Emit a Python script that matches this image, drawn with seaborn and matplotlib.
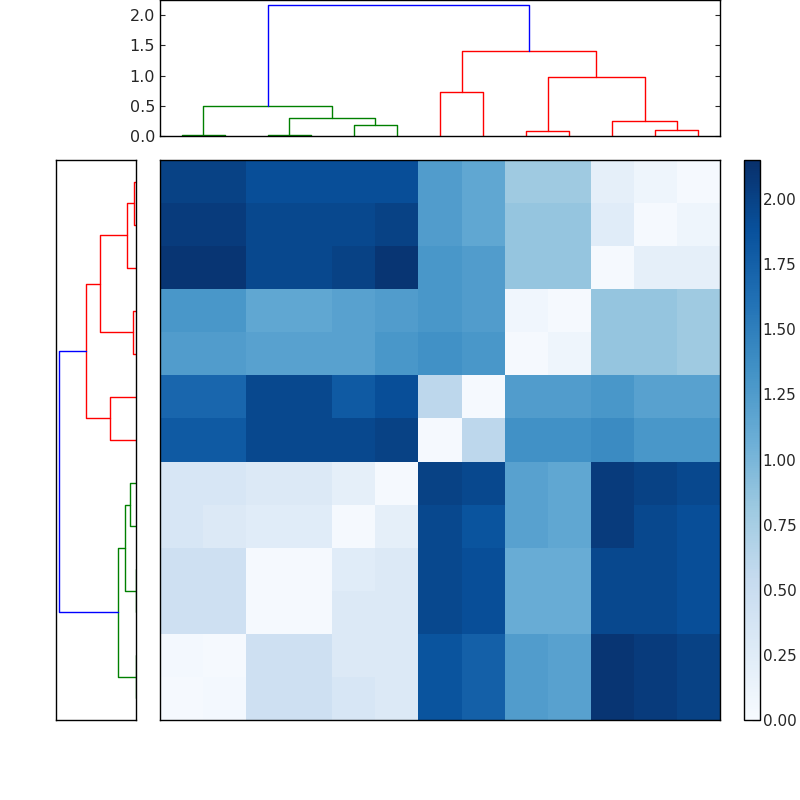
import matplotlib
matplotlib.use("Agg")
import matplotlib.pyplot as plt
import seaborn as sns
import numpy as np
import pandas as pd

# distance matrix, already in dendrogram leaf order (rows top->bottom, cols left->right)
dist = [
    [2.00, 2.00, 1.90, 1.90, 1.90, 1.90, 1.25, 1.15, 0.80, 0.80, 0.20, 0.10, 0.03],
    [2.05, 2.05, 1.95, 1.95, 1.95, 2.00, 1.25, 1.15, 0.85, 0.85, 0.25, 0.03, 0.10],
    [2.10, 2.10, 1.95, 1.95, 2.00, 2.10, 1.30, 1.25, 0.85, 0.85, 0.03, 0.20, 0.20],
    [1.30, 1.30, 1.15, 1.15, 1.20, 1.25, 1.30, 1.25, 0.08, 0.03, 0.85, 0.85, 0.80],
    [1.25, 1.25, 1.20, 1.20, 1.20, 1.30, 1.35, 1.30, 0.03, 0.10, 0.85, 0.85, 0.80],
    [1.70, 1.70, 1.95, 1.95, 1.80, 1.90, 0.60, 0.03, 1.25, 1.25, 1.30, 1.20, 1.20],
    [1.80, 1.80, 1.95, 1.95, 1.95, 2.00, 0.03, 0.60, 1.35, 1.35, 1.40, 1.30, 1.30],
    [0.35, 0.35, 0.30, 0.30, 0.20, 0.03, 2.00, 1.95, 1.20, 1.15, 2.05, 2.00, 1.95],
    [0.35, 0.30, 0.25, 0.25, 0.03, 0.20, 1.95, 1.85, 1.20, 1.15, 2.05, 1.95, 1.90],
    [0.45, 0.45, 0.03, 0.03, 0.25, 0.30, 1.95, 1.90, 1.10, 1.10, 1.95, 1.95, 1.90],
    [0.45, 0.45, 0.03, 0.03, 0.30, 0.30, 1.95, 1.90, 1.10, 1.10, 1.95, 1.95, 1.90],
    [0.05, 0.03, 0.45, 0.45, 0.30, 0.30, 1.85, 1.75, 1.25, 1.20, 2.10, 2.05, 2.00],
    [0.03, 0.05, 0.45, 0.45, 0.35, 0.30, 1.85, 1.75, 1.25, 1.20, 2.10, 2.05, 2.00],
]

# merges: (name, left child, right child, height, colour); ints are leaf positions
col_links = [
    ("a", 0, 1, 0.02, "g"), ("b", 2, 3, 0.01, "g"), ("c", 4, 5, 0.18, "g"),
    ("d", "b", "c", 0.30, "g"), ("e", "a", "d", 0.50, "g"),
    ("f", 6, 7, 0.72, "r"), ("h", 8, 9, 0.08, "r"), ("i", 11, 12, 0.10, "r"),
    ("j", 10, "i", 0.25, "r"), ("k", "h", "j", 0.97, "r"), ("l", "f", "k", 1.40, "r"),
    ("root", "e", "l", 2.17, "b"),
]
row_links = [
    ("a", 0, 1, 0.06, "r"), ("b", 2, "a", 0.26, "r"), ("c", 3, 4, 0.08, "r"),
    ("d", "b", "c", 1.00, "r"), ("e", 5, 6, 0.74, "r"), ("f", "d", "e", 1.40, "r"),
    ("g", 7, 8, 0.18, "g"), ("h", 9, 10, 0.01, "g"), ("i", "g", "h", 0.30, "g"),
    ("j", 11, 12, 0.01, "g"), ("k", "i", "j", 0.50, "g"), ("root", "f", "k", 2.17, "b"),
]


def draw_dendro(ax, links, horizontal=False):
    pos, hgt = {}, {}
    for name, l, r, h, c in links:
        xs, ys = [], []
        for ch in (l, r):
            xs.append(pos[ch] if isinstance(ch, str) else ch + 0.5)
            ys.append(hgt[ch] if isinstance(ch, str) else 0.0)
        px = [xs[0], xs[0], xs[1], xs[1]]
        py = [ys[0], h, h, ys[1]]
        if horizontal:
            ax.plot(py, px, color=c, lw=1)
        else:
            ax.plot(px, py, color=c, lw=1)
        pos[name] = (xs[0] + xs[1]) / 2
        hgt[name] = h


fig = plt.figure(figsize=(8, 8), dpi=100)
sns.set_style("white")

ax_col = fig.add_axes([0.2, 0.83, 0.7, 0.17])
draw_dendro(ax_col, col_links)
ax_col.set_xlim(0, 13)
ax_col.set_ylim(0, 2.25)
ax_col.set_xticks([])
ax_col.set_yticks([0, 0.5, 1.0, 1.5, 2.0])
ax_col.tick_params(direction="in", right=True, left=True, labelsize=11.5)

ax_row = fig.add_axes([0.07, 0.1, 0.1, 0.7])
draw_dendro(ax_row, row_links, horizontal=True)
ax_row.set_ylim(13, 0)
ax_row.set_xlim(2.25, 0)
ax_row.set_xticks([])
ax_row.set_yticks([])

ax_hm = fig.add_axes([0.2, 0.1, 0.7, 0.7])
ax_cb = fig.add_axes([0.93, 0.1, 0.02, 0.7])
sns.heatmap(pd.DataFrame(dist), ax=ax_hm, cmap="Blues", vmin=0, vmax=2.15,
            cbar_ax=ax_cb, xticklabels=False, yticklabels=False)
ax_hm.set_xlabel("")
ax_hm.set_ylabel("")
for a in (ax_col, ax_row, ax_hm):
    for s in a.spines.values():
        s.set_visible(True)
        s.set_color("black")
        s.set_linewidth(1)
ax_cb.set_yticks(np.arange(0, 2.01, 0.25))
ax_cb.set_yticklabels([f"{v:.2f}" for v in np.arange(0, 2.01, 0.25)])
ax_cb.tick_params(labelsize=11, direction="in", length=6, pad=2)
cb = ax_hm.collections[0].colorbar
cb.outline.set_visible(True)
cb.outline.set_edgecolor("black")
cb.outline.set_linewidth(1)

fig.savefig("out.png", dpi=100)
